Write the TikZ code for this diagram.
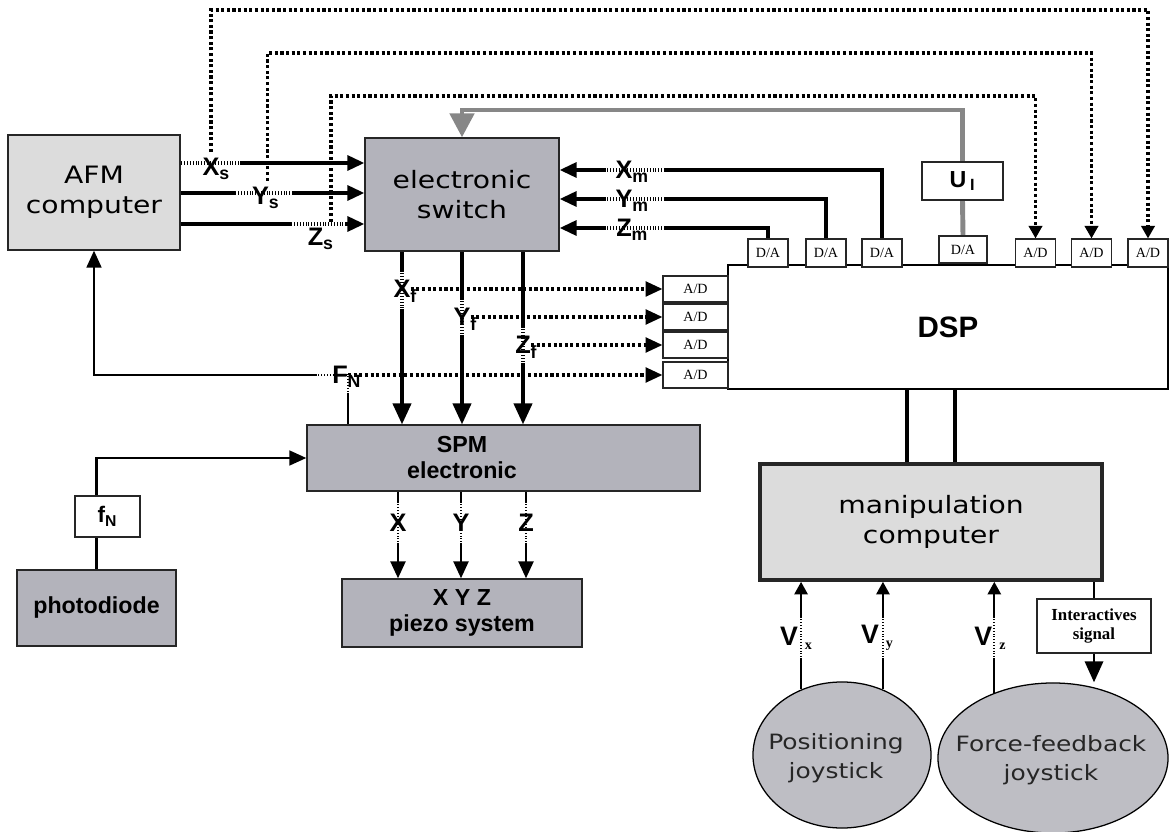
\documentclass[tikz,border=0pt]{standalone}
\usepackage{fontspec}
\usetikzlibrary{arrows.meta,positioning,shapes.geometric,calc,backgrounds}
\newfontfamily\boxfont[FakeStretch=1.18]{DejaVu Sans}
\newfontfamily\lblfont{Liberation Sans}
\newfontfamily\convfont{Liberation Serif}
\definecolor{lightbox}{HTML}{DCDCDC}
\definecolor{darkbox}{HTML}{B3B3BB}
\definecolor{joyfill}{HTML}{BEBEC4}
\definecolor{sigline}{HTML}{878787}
\newcommand{\lsub}[1]{\rlap{\textsubscript{#1}}}

\begin{document}
\begin{tikzpicture}[x=0.025cm, y=-0.025cm,
    lightblock/.style={draw=black!85, line width=0.9pt, fill=lightbox, align=center, inner sep=0pt,
        font=\boxfont\fontsize{17}{21}\selectfont},
    darkblock/.style={draw=black!85, line width=0.9pt, fill=darkbox, align=center, inner sep=0pt},
    boldtext/.style={font=\lblfont\bfseries\fontsize{16.5}{18.5}\selectfont, align=center, inner sep=0pt},
    conv/.style={draw=black!85, line width=0.8pt, fill=white, inner sep=0pt,
        font=\convfont\fontsize{10}{12}\selectfont, minimum width=1.0cm, minimum height=0.7cm},
    sig/.style={font=\lblfont\bfseries\fontsize{18}{18}\selectfont, inner sep=0pt,
        text height=16.9pt, text depth=4.5pt},
    vsig/.style={font=\lblfont\bfseries\fontsize{19}{19}\selectfont, inner sep=0pt},
    joy/.style={ellipse, draw=black, line width=0.9pt, fill=joyfill, inner sep=0pt},
    joytext/.style={font=\boxfont\fontsize{15}{21}\selectfont, text=black!85, align=center},
    thk/.style={line width=2.6pt},
    mid/.style={line width=1.9pt},
    thn/.style={line width=1.5pt},
    dotl/.style={line width=2.2pt, dash pattern=on 2.2pt off 1.8pt},
    gline/.style={draw=sigline, line width=3.5pt},
    hatch/.style={draw=white, dash pattern=on 0.55pt off 0.55pt},
    bigtip/.style={-{Triangle[length=15pt,width=13pt]}},
    midtip/.style={-{Triangle[length=12pt,width=10.5pt]}},
    smalltip/.style={-{Triangle[length=9pt,width=9.5pt]}},
    graytip/.style={-{Triangle[length=17pt,width=17pt]}}
]
\useasboundingbox (0,0) rectangle (1171,832);

% Main blocks
\node[lightblock, minimum width=4.3cm, minimum height=2.875cm] (afm) at (94,192.5) {AFM\\computer};
\node[darkblock, font=\boxfont\fontsize{17}{21}\selectfont, minimum width=4.85cm, minimum height=2.825cm] (switch) at (462,194.5) {electronic\\switch};
\node[darkblock, minimum width=9.825cm, minimum height=1.65cm] (spm) at (503.5,458) {};
\node[boldtext] (spmtext) at (462,458) {SPM\\electronic};
\node[darkblock, boldtext, minimum width=3.975cm, minimum height=1.9cm] (photo) at (96.5,608) {photodiode};
\node[darkblock, boldtext, minimum width=6cm, minimum height=1.7cm] (piezo) at (462,613) {X Y Z\\piezo system};
\node[draw=black, line width=2pt, fill=white, font=\lblfont\bfseries\fontsize{21}{21}\selectfont, minimum width=11cm, minimum height=3.1cm] (dsp) at (948,327) {DSP};
\node[lightblock, line width=2.6pt, minimum width=8.55cm, minimum height=2.9cm] (manip) at (931,522) {manipulation\\computer};

% Converters on the DSP
\node[conv] (da1) at (768,253) {D/A};
\node[conv] (da2) at (826,253) {D/A};
\node[conv] (da3) at (882,253) {D/A};
\node[conv, minimum width=1.2cm, minimum height=0.675cm] (da4) at (963,249.5) {D/A};
\node[conv] (ad1) at (1035.5,253) {A/D};
\node[conv] (ad2) at (1091.5,253) {A/D};
\node[conv] (ad3) at (1148,253) {A/D};
\node[conv, minimum width=1.625cm, minimum height=0.65cm] (adx) at (695.5,289) {A/D};
\node[conv, minimum width=1.625cm, minimum height=0.65cm] (ady) at (695.5,317) {A/D};
\node[conv, minimum width=1.625cm, minimum height=0.65cm] (adz) at (695.5,345) {A/D};
\node[conv, minimum width=1.625cm, minimum height=0.65cm] (adf) at (695.5,375) {A/D};

% Small boxes
\node[conv, font=\lblfont\bfseries\fontsize{16.5}{16.5}\selectfont, minimum width=2.025cm, minimum height=0.95cm] (ui) at (962.5,181) {U\,\textsubscript{I}};
\node[conv, font=\lblfont\bfseries\fontsize{16}{16}\selectfont, minimum width=1.625cm, minimum height=1.025cm] (fnbox) at (107.5,516.5) {f\textsubscript{N}};
\node[conv, font=\convfont\bfseries\fontsize{12}{14}\selectfont, align=center, minimum width=2.85cm, minimum height=1.35cm] (isig) at (1094,626) {Interactives\\signal};

% Joysticks
\node[joy, minimum width=4.45cm, minimum height=3.65cm] (posjoy) at (842,755) {};
\node[joytext] (postext) at (836,758) {Positioning\\joystick};
\node[joy, minimum width=5.75cm, minimum height=3.75cm] (ffjoy) at (1053,758) {};
\node[joytext] (fftext) at (1051,760) {Force-feedback\\joystick};

% Signal labels
\node[sig] (xs) at (211,167) {X\lsub{s}};
\node[sig] (ys) at (260.5,196) {Y\lsub{s}};
\node[sig] (zs) at (315.5,237) {Z\lsub{s}};
\node[sig] (xm) at (624,170) {X\lsub{m}};
\node[sig] (ym) at (624,199) {Y\lsub{m}};
\node[sig] (zm) at (624,228) {Z\lsub{m}};
\node[sig] (xf) at (402,289) {X\lsub{f}};
\node[sig] (yf) at (462,317) {Y\lsub{f}};
\node[sig] (zf) at (523,345) {Z\lsub{f}};
\node[sig] (fnl) at (340,375) {F\lsub{N}};
\node[sig] (px) at (398,523) {X};
\node[sig] (py) at (461,523) {Y};
\node[sig] (pz) at (526,523) {Z};
\node[vsig] (vx) at (796,638) {V\hspace{5pt}\raisebox{-3pt}{\convfont\fontsize{10}{10}\selectfont x}};
\node[vsig] (vy) at (877,638) {V\hspace{5pt}\raisebox{-3pt}{\convfont\fontsize{10}{10}\selectfont y}};
\node[vsig] (vz) at (990,638) {V\hspace{5pt}\raisebox{-3pt}{\convfont\fontsize{10}{10}\selectfont z}};

\coordinate (sx) at (0,163);
\coordinate (sy) at (0,193);
\coordinate (sz) at (0,224);
\coordinate (top1) at (0,10);
\coordinate (top2) at (0,53);
\coordinate (top3) at (0,96);
\coordinate (gray) at (0,110);
\coordinate (fncorner) at (348,375);

\begin{pgfonlayer}{background}
% AFM to switch
\draw[thk, midtip] (afm.east |- sx) -- (switch.west |- sx);
\draw[thk, midtip] (afm.east |- sy) -- (switch.west |- sy);
\draw[thk, midtip] (afm.east |- sz) -- (switch.west |- sz);
% DSP outputs to switch
\draw[thk, midtip] (da3.north) |- (switch.east |- xm);
\draw[thk, midtip] (da2.north) |- (switch.east |- ym);
\draw[thk, midtip] (da1.north) |- (switch.east |- zm);
% switch to SPM
\draw[thk, bigtip] (switch.south -| xf) -- (spm.north -| xf);
\draw[thk, bigtip] (switch.south -| yf) -- (spm.north -| yf);
\draw[thk, bigtip] (switch.south -| zf) -- (spm.north -| zf);
% SPM to piezo
\draw[mid, midtip] (spm.south -| px) -- (piezo.north -| px);
\draw[mid, midtip] (spm.south -| py) -- (piezo.north -| py);
\draw[mid, midtip] (spm.south -| pz) -- (piezo.north -| pz);
% photodiode
\draw[thn] (photo.north) -- (photo.north |- fnbox.south);
\draw[thn, midtip] (photo.north |- fnbox.north) |- (spm.west);
% normal force back to AFM
\draw[thn, midtip] (spm.north -| fncorner) -- (fncorner) -| (afm.south);
% sampled signals
\draw[dotl, midtip] (xf.east) -- (adx.west);
\draw[dotl, midtip] (yf.east) -- (ady.west);
\draw[dotl, midtip] (zf.east) -- (adz.west);
\draw[dotl, midtip] (fncorner) -- (adf.west);
\draw[dotl, smalltip] (xs.north) |- (ad3.north |- top1) -- (ad3.north);
\draw[dotl, smalltip] ([xshift=5pt]ys.north) |- (ad2.north |- top2) -- (ad2.north);
\draw[dotl, smalltip] ([xshift=11pt]zs.north) |- (ad1.north |- top3) -- (ad1.north);
% U_I
\draw[gline] (da4.north) -- (ui.south);
\draw[gline, graytip] (ui.north) |- (switch.north |- gray) -- (switch.north);
% DSP and manipulation computer
\draw[thk] ([xshift=-17pt]manip.north |- dsp.south) -- ([xshift=-17pt]manip.north);
\draw[thk] ([xshift=17pt]manip.north |- dsp.south) -- ([xshift=17pt]manip.north);
% joysticks
\draw[thn, smalltip] (posjoy.122) -- (posjoy.122 |- manip.south);
\draw[thn, smalltip] (posjoy.58) -- (posjoy.58 |- manip.south);
\draw[thn, smalltip] (ffjoy.132) -- (ffjoy.132 |- manip.south);
\draw[mid] (manip.south -| isig) -- (isig.north);
\draw[mid, bigtip] (isig.south) -- (isig.south |- ffjoy.north);
% hatched parts round the labels
\draw[hatch, line width=2.6pt] ($(xs |- sx)+(-31,0)$) -- ($(xs |- sx)+(28,0)$);
\draw[hatch, line width=2.6pt] ($(ys |- sy)+(-25,0)$) -- ($(ys |- sy)+(32,0)$);
\draw[hatch, line width=2.6pt] ($(zs |- sz)+(-24,0)$) -- ($(zs |- sz)+(30,0)$);
\draw[hatch, line width=2.6pt] ($(xm)+(-18,0)$) -- ($(xm)+(40,0)$);
\draw[hatch, line width=2.6pt] ($(ym)+(-18,0)$) -- ($(ym)+(40,0)$);
\draw[hatch, line width=2.6pt] ($(zm)+(-18,0)$) -- ($(zm)+(40,0)$);
\draw[hatch, line width=2.6pt] ($(xf)+(0,-17)$) -- ($(xf)+(0,19)$);
\draw[hatch, line width=2.6pt] ($(yf)+(0,-17)$) -- ($(yf)+(0,18)$);
\draw[hatch, line width=2.6pt] ($(zf)+(0,-17)$) -- ($(zf)+(0,18)$);
\draw[hatch, line width=1.5pt] ($(fncorner)+(-31,0)$) -- ($(fncorner)+(-15,0)$);
\draw[hatch, line width=1.5pt] (fncorner) -- ($(fncorner)+(0,18)$);
\draw[hatch, line width=1.9pt] ($(px)+(0,-20)$) -- ($(px)+(0,20)$);
\draw[hatch, line width=1.9pt] ($(py)+(0,-20)$) -- ($(py)+(0,20)$);
\draw[hatch, line width=1.9pt] ($(pz)+(0,-20)$) -- ($(pz)+(0,20)$);
\draw[hatch, line width=1.5pt] ($(posjoy.122 |- vx)+(0,-20)$) -- ($(posjoy.122 |- vx)+(0,20)$);
\draw[hatch, line width=1.5pt] ($(posjoy.58 |- vy)+(0,-20)$) -- ($(posjoy.58 |- vy)+(0,20)$);
\draw[hatch, line width=1.5pt] ($(ffjoy.132 |- vz)+(0,-20)$) -- ($(ffjoy.132 |- vz)+(0,20)$);
\end{pgfonlayer}
\end{tikzpicture}
\end{document}
